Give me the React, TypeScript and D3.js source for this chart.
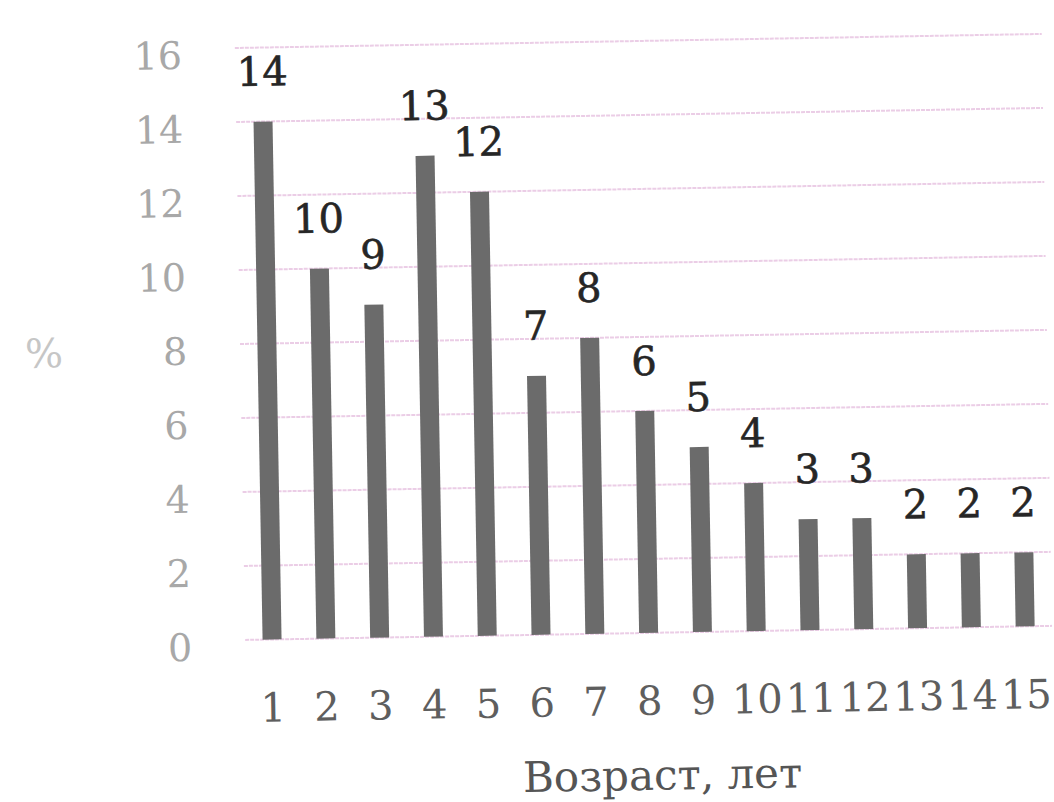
import React, {useEffect, useRef} from 'react';
import * as d3 from "d3";

// age groups (years) and share of cases, %
const ages = ["1", "2", "3", "4", "5", "6", "7", "8", "9", "10", "11", "12", "13", "14", "15"];
const shares = [14, 10, 9, 13, 12, 7, 8, 6, 5, 4, 3, 3, 2, 2, 2];
const yTicks = [0, 2, 4, 6, 8, 10, 12, 14, 16];
const xTitle = "Возраст, лет";
const yTitle = "%";

const W = 1054, H = 802;

function App() {
    const ref = useRef<SVGSVGElement | null>(null);

    useEffect(() => {
        const svg = d3.select(ref.current);
        svg.selectAll("*").remove();

        const font = "'DejaVu Serif', serif";
        const plot = {left: 240, right: 1047, top: 41, bottom: 633};

        // the scan is tilted a little, so tilt everything with it
        const g = svg.append("g").attr("transform", "rotate(-1, 640, 340)");

        const x = d3.scalePoint<string>()
            .domain(ages)
            .range([plot.left, plot.right])
            .padding(0.5);

        const y = d3.scaleLinear()
            .domain([0, 16])
            .range([plot.bottom, plot.top]);

        const barW = 19;

        //gridlines
        g.append("g")
            .selectAll("line")
            .data(yTicks)
            .join("line")
            .attr("x1", plot.left)
            .attr("x2", plot.right)
            .attr("y1", d => y(d))
            .attr("y2", d => y(d))
            .attr("stroke", "#ebcde6")
            .attr("stroke-width", 2)
            .attr("stroke-dasharray", "4,1");

        //y tick labels
        g.append("g")
            .selectAll("text")
            .data(yTicks)
            .join("text")
            .attr("x", 187)
            .attr("y", d => y(d) + 20)
            .attr("text-anchor", "end")
            .attr("font-family", font)
            .attr("font-size", 38)
            .attr("fill", "#a8a8a8")
            .text(d => d);

        //bars
        g.append("g")
            .selectAll("rect")
            .data(shares)
            .join("rect")
            .attr("x", (d, i) => (x(ages[i]) as number) - barW / 2)
            .attr("y", d => y(d))
            .attr("width", barW)
            .attr("height", d => y(0) - y(d))
            .attr("fill", "#6b6b6b");

        //value labels
        g.append("g")
            .selectAll("text")
            .data(shares)
            .join("text")
            .attr("x", (d, i) => x(ages[i]) as number)
            .attr("y", d => y(d) - 36)
            .attr("text-anchor", "middle")
            .attr("font-family", font)
            .attr("font-size", 40)
            .attr("fill", "#262626")
            .attr("stroke", "#262626")
            .attr("stroke-width", 0.6)
            .text(d => d);

        //x tick labels
        g.append("g")
            .selectAll("text")
            .data(ages)
            .join("text")
            .attr("x", d => x(d) as number)
            .attr("y", plot.bottom + 82)
            .attr("text-anchor", "middle")
            .attr("font-family", font)
            .attr("font-size", 40)
            .attr("fill", "#5e5e5e")
            .text(d => d);

        //axis titles
        g.append("text")
            .attr("x", 655)
            .attr("y", 790)
            .attr("text-anchor", "middle")
            .attr("font-family", font)
            .attr("font-size", 42)
            .attr("fill", "#555")
            .text(xTitle);

        g.append("text")
            .attr("x", 44)
            .attr("y", 357)
            .attr("text-anchor", "middle")
            .attr("font-family", font)
            .attr("font-size", 40)
            .attr("fill", "#c6c6c6")
            .text(yTitle);
    }, []);

    return (
        <div style={{position: "absolute", left: 0, top: 0, background: "#fff"}}>
            <svg ref={ref} width={W} height={H} style={{display: "block"}}></svg>
        </div>
    );
}

export default App;
